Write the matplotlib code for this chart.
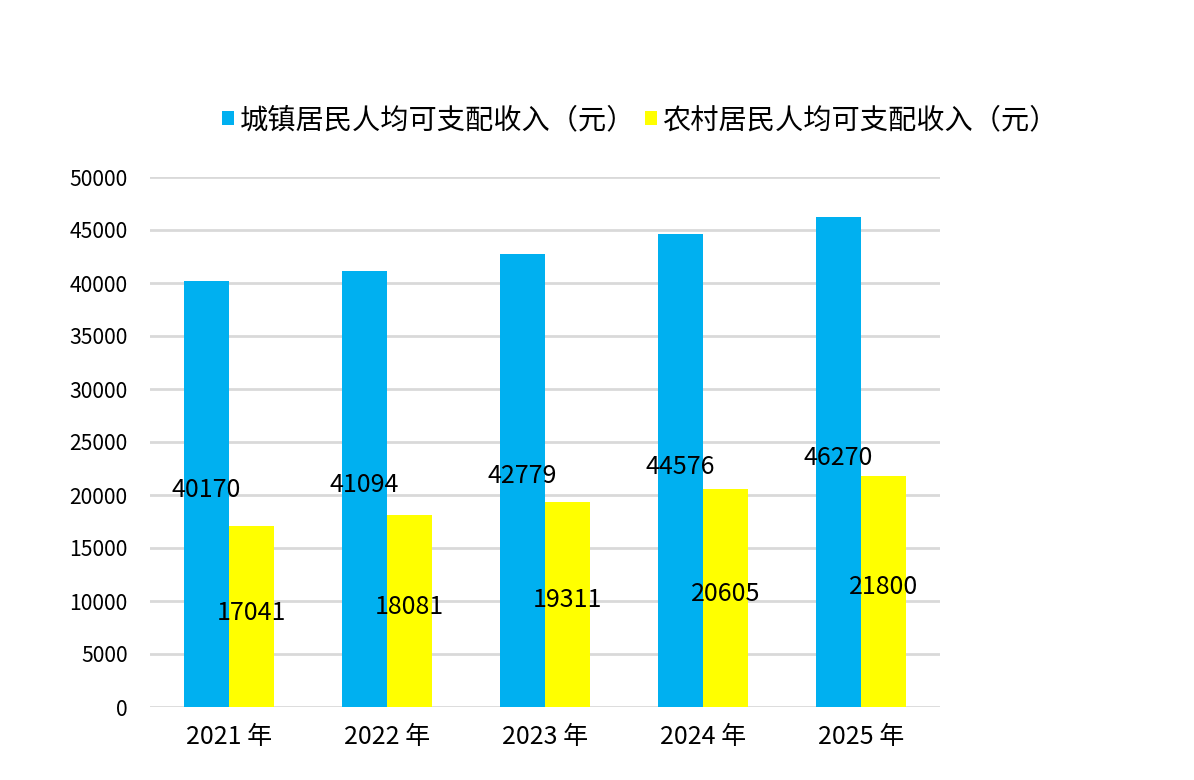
import matplotlib
matplotlib.use("Agg")
import matplotlib.pyplot as plt
import numpy as np

plt.rcParams['font.family'] = ['Noto Sans CJK SC', 'DejaVu Sans']

# ----- DATA -----
years = ["2021 年", "2022 年", "2023 年", "2024 年", "2025 年"]
urban_income = [40170, 41094, 42779, 44576, 46270]
rural_income = [17041, 18081, 19311, 20605, 21800]
urban_label = "城镇居民人均可支配收入（元）"
rural_label = "农村居民人均可支配收入（元）"
y_ticks = [0, 5000, 10000, 15000, 20000, 25000, 30000, 35000, 40000, 45000, 50000]

# ----- PLOT -----
fig = plt.figure(figsize=(11.94, 7.8), dpi=100)
ax = fig.add_axes([150 / 1194, 1 - 707 / 780, 790 / 1194, 530 / 780])

x = np.arange(len(years))
w = 0.285
b1 = ax.bar(x - w / 2, urban_income, w, color="#00B0F0", label=urban_label, zorder=2)
b2 = ax.bar(x + w / 2, rural_income, w, color="#FFFF00", label=rural_label, zorder=2)

# value labels at the middle of each bar
for bars in (b1, b2):
    for r in bars:
        v = r.get_height()
        ax.annotate(f"{v:.0f}", (r.get_x() + r.get_width() / 2, v / 2),
                    xytext=(0, 3), textcoords="offset points",
                    ha="center", va="center", fontsize=18, color="black", zorder=3)

ax.set_xlim(-0.5, len(years) - 0.5)
ax.set_ylim(0, 50000)
ax.set_yticks(y_ticks)
ax.set_yticklabels([str(t) for t in y_ticks])
ax.set_xticks(x)
ax.set_xticklabels(years)
ax.yaxis.grid(True, color="#d9d9d9", linewidth=2, zorder=0)
ax.set_axisbelow(True)
for s in ax.spines.values():
    s.set_visible(False)
ax.tick_params(axis="y", length=0, pad=16, labelsize=15.2)
ax.tick_params(axis="x", length=0, pad=12, labelsize=18)

leg = fig.legend(handles=[b1, b2], loc="center", bbox_to_anchor=(640 / 1194, 1 - 120 / 780),
                 ncol=2, frameon=False, fontsize=20.3, handlelength=0.42, handleheight=0.42,
                 handletextpad=0.2, columnspacing=0.35)

plt.savefig("out.png", dpi=100)
plt.close()
